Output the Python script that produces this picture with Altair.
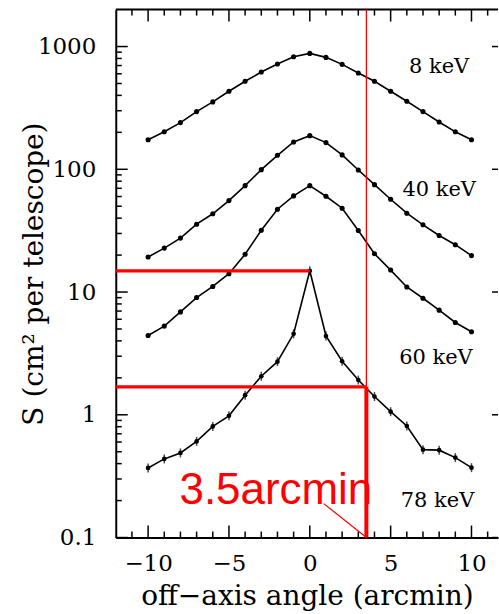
import altair as alt
import pandas as pd

# ---------------- data ----------------
angles = list(range(-10, 11))
s_8kev = [174, 202, 240, 295, 354, 432, 521, 620, 720, 825, 879,
          816, 716, 608, 521, 432, 358, 295, 243, 202, 174]
s_40kev = [19.3, 22.8, 27.5, 35.7, 43.4, 55.6, 73.6, 99.3, 130, 167, 188,
           165, 131, 98.7, 75, 57, 43.9, 35.3, 28.9, 24.3, 19.8]
s_60kev = [4.43, 5.28, 6.89, 9.02, 11.1, 14.1, 20.3, 31.9, 47.3, 60.7, 73.6,
           60.3, 48.2, 31.7, 20.5, 15.1, 11.0, 8.9, 7.12, 5.65, 4.75]
s_78kev = [0.369, 0.437, 0.489, 0.607, 0.804, 0.98, 1.445, 2.06, 2.71, 4.57, 14.9,
           4.38, 2.73, 1.92, 1.41, 1.06, 0.81, 0.52, 0.515, 0.448, 0.371]
energies = ["8 keV", "40 keV", "60 keV", "78 keV"]

label_x = [8.0, 8.0, 7.8, 7.9]
label_y = [681, 68.3, 2.9, 0.2]

x_major = [-10, -5, 0, 5, 10]
x_minor = [v for v in range(-11, 12) if v % 5 != 0]
y_major = [0.1, 1, 10, 100, 1000]
y_minor = [k * d for d in [0.1, 1, 10, 100, 1000] for k in range(2, 10) if k * d < 2000]

# red annotation
cut_angle = 3.5
peak_78 = 14.9
level_cut = 1.69
ann_text = "3.5arcmin"
ann_x = -8.06
ann_y = 0.189
pointer_x = [0.86, 3.5]
pointer_y = [0.189, 0.1]

X_DOMAIN = [-12, 11.64]
Y_DOMAIN = [0.1, 2000]
W, H = 383, 529
FONT = "DejaVu Serif"
X_TITLE = "off\u2212axis angle (arcmin)"
Y_TITLE = "S (cm\u00b2 per telescope)"

# ---------------- tables ----------------
curves = pd.DataFrame({
    "x": angles * 4,
    "y": s_8kev + s_40kev + s_60kev + s_78kev,
    "energy": sum([[e] * len(angles) for e in energies], []),
})
circ = curves[curves.energy != "78 keV"]
hard = curves[curves.energy == "78 keV"]
labels = pd.DataFrame({"x": label_x, "y": label_y, "t": energies})

red = pd.DataFrame({
    "x": [X_DOMAIN[0], X_DOMAIN[0], cut_angle, cut_angle, pointer_x[0]],
    "x2": [0, cut_angle, cut_angle, cut_angle, pointer_x[1]],
    "y": [peak_78, level_cut, level_cut, level_cut, pointer_y[0]],
    "y2": [peak_78, level_cut, Y_DOMAIN[1], Y_DOMAIN[0], pointer_y[1]],
    "w": [3.2, 3.2, 1.3, 4, 1.2],
})
ann = pd.DataFrame({"x": [ann_x], "y": [ann_y], "t": [ann_text]})
ytitle_df = pd.DataFrame({"t": [Y_TITLE]})

xs = alt.Scale(domain=X_DOMAIN, nice=False, zero=False)
ys = alt.Scale(type="log", domain=Y_DOMAIN, nice=False)

x_axis = alt.Axis(values=x_major, ticks=False, grid=False, format="d",
                  domainColor="black", domainWidth=2,
                  labelFont=FONT, labelFontSize=23, labelColor="black", labelPadding=15,
                  titleFont=FONT, titleFontSize=28, titleFontWeight="normal",
                  titleColor="black", titlePadding=7)
y_axis = alt.Axis(values=y_major, ticks=False, grid=False, format="~g",
                  domainColor="black", domainWidth=2,
                  labelFont=FONT, labelFontSize=23, labelColor="black", labelPadding=20)


def X(f="x"):
    return alt.X(f"{f}:Q", scale=xs, axis=x_axis, title=X_TITLE)


def Y(f="y"):
    return alt.Y(f"{f}:Q", scale=ys, axis=y_axis, title=None)


lines = alt.Chart(curves).mark_line(color="black", strokeWidth=1.6).encode(
    x=X(), y=Y(), detail="energy:N")
dots = alt.Chart(circ).mark_point(filled=True, color="black", size=26, opacity=1).encode(
    x=X(), y=Y())
hdots = alt.Chart(hard).mark_point(filled=True, color="black", size=22, opacity=1).encode(
    x=X(), y=Y())
hbars = alt.Chart(hard).mark_tick(orient="vertical", color="black", size=9, thickness=1.5).encode(
    x=X(), y=Y())
text = alt.Chart(labels).mark_text(font=FONT, fontSize=21, color="black").encode(
    x=X(), y=Y(), text="t:N")

tx_major = pd.DataFrame({"x": x_major})
tx_minor = pd.DataFrame({"x": x_minor})
ty_major = pd.DataFrame({"y": y_major})
ty_minor = pd.DataFrame({"y": y_minor})

tk = dict(color="black", strokeWidth=1.5)
top_maj = alt.Chart(tx_major).mark_rule(**tk).encode(x=X(), y=alt.value(0), y2=alt.value(12))
top_min = alt.Chart(tx_minor).mark_rule(**tk).encode(x=X(), y=alt.value(0), y2=alt.value(6))
bot_maj = alt.Chart(tx_major).mark_rule(**tk).encode(x=X(), y=alt.value(H), y2=alt.value(H - 12))
bot_min = alt.Chart(tx_minor).mark_rule(**tk).encode(x=X(), y=alt.value(H), y2=alt.value(H - 6))
lef_maj = alt.Chart(ty_major).mark_rule(**tk).encode(y=Y(), x=alt.value(0), x2=alt.value(12))
lef_min = alt.Chart(ty_minor).mark_rule(**tk).encode(y=Y(), x=alt.value(0), x2=alt.value(6))
rig_maj = alt.Chart(ty_major).mark_rule(**tk).encode(y=Y(), x=alt.value(W - 6), x2=alt.value(W))
top_frame = alt.Chart(tx_major.head(1)).mark_rule(color="black", strokeWidth=2).encode(
    x=alt.value(0), x2=alt.value(W), y=alt.value(0))

ytitle = alt.Chart(ytitle_df).mark_text(
    font=FONT, fontSize=28, color="black", angle=270, align="center", baseline="middle"
).encode(x=alt.value(-81), y=alt.value(265), text="t:N")

red_lines = alt.Chart(red).mark_rule(color="#ff0000").encode(
    x=X(), x2="x2:Q", y=Y(), y2="y2:Q", strokeWidth=alt.StrokeWidth("w:Q", scale=None))
red_text = alt.Chart(ann).mark_text(
    font="Liberation Sans", fontSize=44, color="#ff0000",
    align="left", baseline="alphabetic").encode(x=X(), y=Y(), text="t:N")

chart = alt.layer(
    top_frame, top_maj, top_min, bot_maj, bot_min, lef_maj, lef_min, rig_maj,
    lines, dots, hbars, hdots, text, red_lines, red_text, ytitle,
).properties(
    width=W, height=H,
    padding={"left": 21, "top": 8, "right": 0, "bottom": 0},
    background="white",
).configure_view(stroke=None).configure_axis(
    titleFont=FONT, labelFont=FONT, titleFontWeight="normal"
)

chart.save("out.html", embed_options={"renderer": "svg", "actions": False})
